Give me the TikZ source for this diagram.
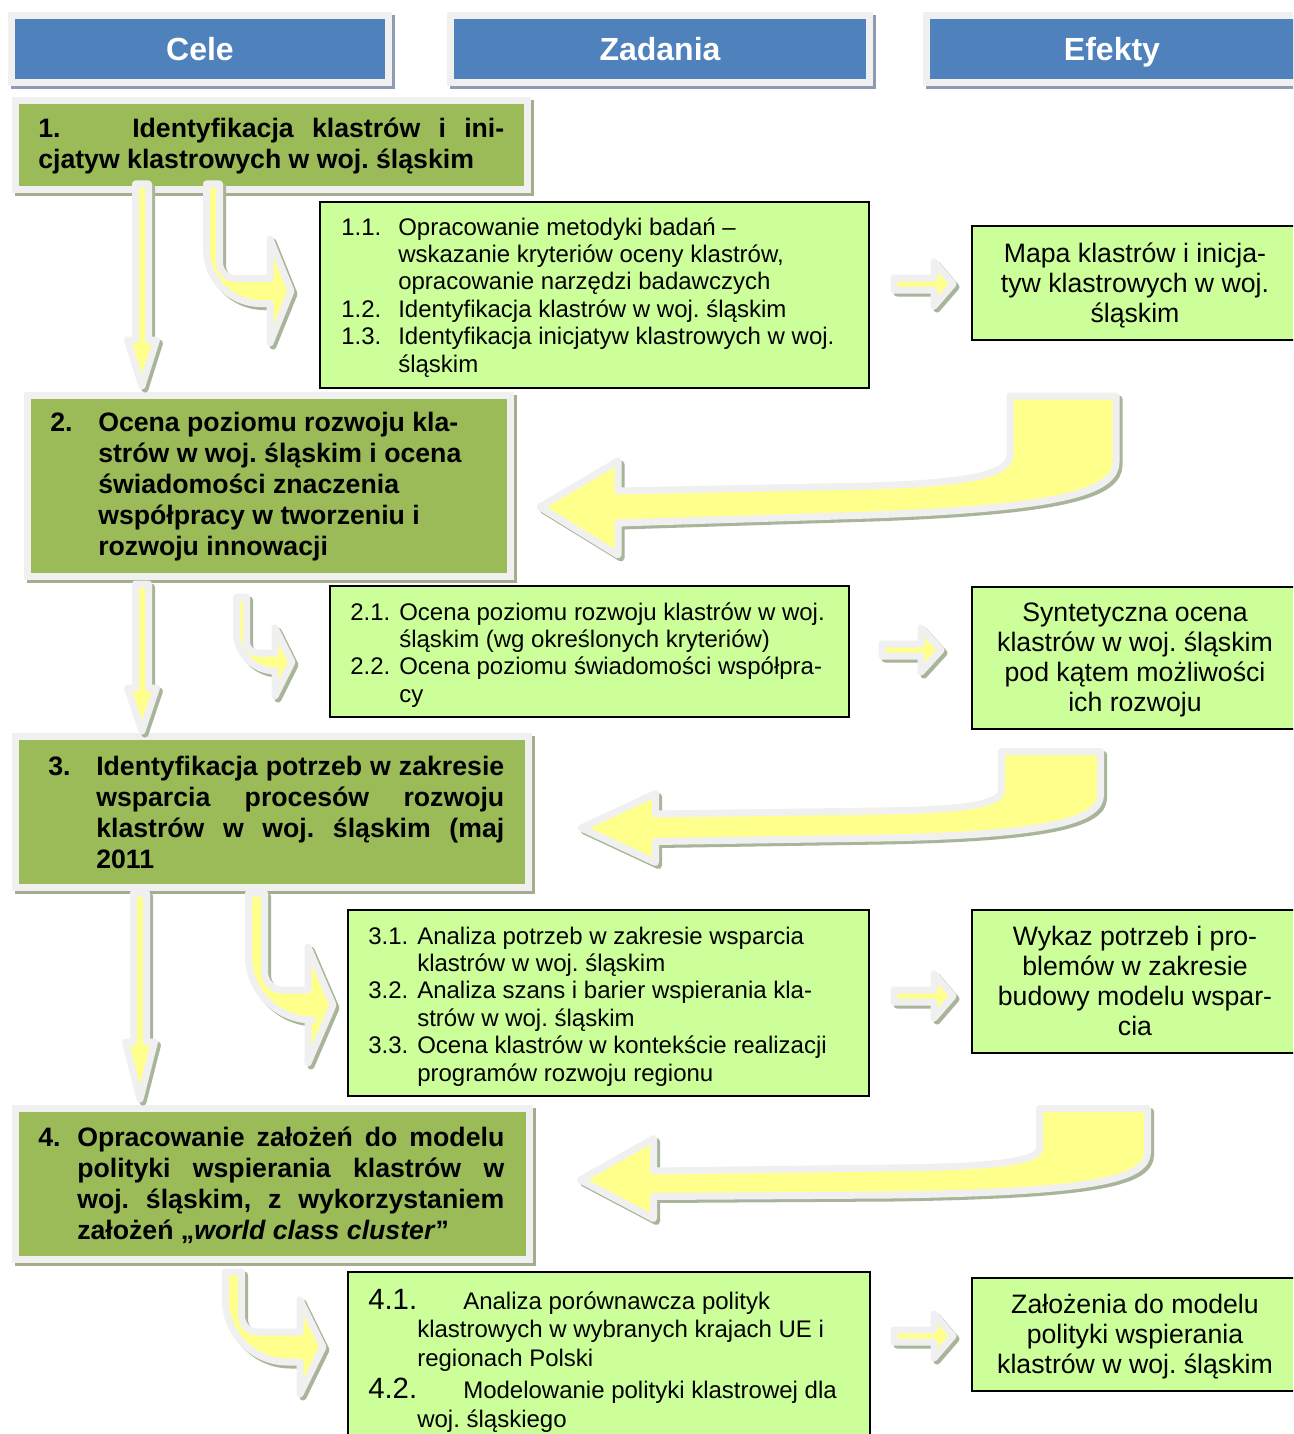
\documentclass[tikz,border=0pt]{standalone}
\usepackage{fontspec}
\setmainfont{Liberation Sans}
\definecolor{hblue}{HTML}{4F81BD}
\definecolor{framec}{HTML}{F0F0F0}
\definecolor{hshadowc}{HTML}{8E9CB2}
\definecolor{ggreen}{HTML}{9BBB59}
\definecolor{gshadowc}{HTML}{A4AE8F}
\definecolor{tfill}{HTML}{CCFF99}
\definecolor{ayellow}{HTML}{FFFF8C}
\definecolor{ashadowc}{HTML}{A9B59A}
\tikzset{
  abody/.style={fill=ayellow, draw=framec, line width=5.25pt, line join=round},
  ashadow/.style={fill=ashadowc, draw=ashadowc, line width=5.25pt, line join=round},
  tbox/.style={fill=tfill, draw=black, line width=1.5pt},
  htext/.style={anchor=base, text=white, inner sep=0pt, font=\fontsize{24pt}{28pt}\selectfont\bfseries},
  gtext/.style={anchor=base west, inner sep=0pt, font=\fontsize{20pt}{23.25pt}\selectfont\bfseries},
  ttext/.style={anchor=base west, inner sep=0pt, font=\fontsize{18pt}{20.6pt}\selectfont},
  etext/.style={anchor=base, inner sep=0pt, font=\fontsize{20pt}{22.5pt}\selectfont}
}
\newcommand\blockarrow[1]{\path[ashadow, shift={(3,3)}] #1; \path[abody] #1;}
% cx, ytop, yc, xhead, xtip, half shaft (vertical), half shaft (horizontal), half head, radius
\newcommand\bentarrow[9]{\blockarrow{(#1-#6,#2) -- (#1+#6,#2) -- (#1+#6,#3-#7-#9) .. controls (#1+#6,#3-#7-0.45*#9) and (#1+#6+0.45*#9,#3-#7) .. (#1+#6+#9,#3-#7) -- (#4,#3-#7) -- (#4,#3-#8) -- (#5,#3) -- (#4,#3+#8) -- (#4,#3+#7) -- (#1-#6+#9+#6+#6+#7+#7,#3+#7) .. controls (#1-#6+0.45*#9+0.45*#6+0.45*#6+0.45*#7+0.45*#7,#3+#7) and (#1-#6,#3+#7-0.45*#9-0.45*#6-0.45*#6-0.45*#7-0.45*#7) .. (#1-#6,#3+#7-#9-#6-#6-#7-#7) -- cycle}}
% cx, ytop, yhead, ytip, half shaft, half head
\newcommand\vdownarr[6]{\blockarrow{(#1-#5,#2) -- (#1+#5,#2) -- (#1+#5,#3) -- (#1+#6,#3) -- (#1,#4) -- (#1-#6,#3) -- (#1-#5,#3) -- cycle}}
% x0, xhead, xtip, yc, half shaft, half head
\newcommand\rarr[6]{\blockarrow{(#1,#4-#5) -- (#2,#4-#5) -- (#2,#4-#6) -- (#3,#4) -- (#2,#4+#6) -- (#2,#4+#5) -- (#1,#4+#5) -- cycle}}
\begin{document}
\frenchspacing
\begin{tikzpicture}[x=0.75pt,y=-0.75pt]
\useasboundingbox (0,0) rectangle (1293,1434);
\clip (0,0) rectangle (1293,1434);
\fill[white] (0,0) rectangle (1293,1434);

% ---------- headers
\fill[hshadowc] (11,15) rectangle (395,89);
\fill[framec] (8,12) rectangle (392,86);
\fill[hblue] (15,19) rectangle (385,79);
\node[htext] (hcele) at (200,61) {Cele};

\fill[hshadowc] (450,15) rectangle (876,89);
\fill[framec] (447,12) rectangle (873,86);
\fill[hblue] (454,19) rectangle (866,79);
\node[htext] (hzad) at (660,61) {Zadania};

\fill[hshadowc] (926,15) rectangle (1300,89);
\fill[framec] (923,12) rectangle (1300,86);
\fill[hblue] (930,19) rectangle (1300,79);
\node[htext] (hefe) at (1112,61) {Efekty};

% ---------- goal boxes
\fill[gshadowc] (15,100) rectangle (534,196);
\fill[framec] (12,97) rectangle (531,193);
\fill[ggreen] (19,104) rectangle (524,186);

\fill[gshadowc] (27,395) rectangle (517,583);
\fill[framec] (24,392) rectangle (514,580);
\fill[ggreen] (31,399) rectangle (507,573);

\fill[gshadowc] (15,736) rectangle (535,894);
\fill[framec] (12,733) rectangle (532,891);
\fill[ggreen] (19,740) rectangle (525,884);

\fill[gshadowc] (15,1108) rectangle (536,1266);
\fill[framec] (12,1105) rectangle (533,1263);
\fill[ggreen] (19,1112) rectangle (526,1256);

% ---------- task and effect boxes
\draw[tbox] (320,202) rectangle (869,388);
\draw[tbox] (330,586) rectangle (849,717);
\draw[tbox] (348,910) rectangle (869,1096);
\draw[tbox] (348,1272) rectangle (870,1445);
\draw[tbox] (972,226) rectangle (1300,340);
\draw[tbox] (972,587) rectangle (1300,729);
\draw[tbox] (972,910) rectangle (1300,1053);
\draw[tbox] (972,1278) rectangle (1300,1391);

% ---------- arrows
\vdownarr{142}{184}{340}{386}{6.5}{14.5}
\vdownarr{142}{584}{688}{731}{6.5}{14.5}
\vdownarr{140}{893}{1042}{1099}{6.5}{14.5}

\bentarrow{213}{184}{291}{270}{291}{6.5}{12.5}{52}{16}
\bentarrow{241.5}{597}{662}{275}{292}{5}{9}{34}{11}
\bentarrow{256.5}{893}{1005}{308}{333}{8}{15}{58}{18}
\bentarrow{233.5}{1272}{1347}{300}{323}{8}{15}{47}{16}

\rarr{894}{934}{953}{284}{6}{22}
\rarr{882}{921}{941}{650}{6}{22}
\rarr{894}{934}{953}{996}{6}{22}
\rarr{894}{934}{953}{1336}{6}{22}

\blockarrow{(1010,396) -- (1010,455) .. controls (1010,476) and (960,483) .. (870,486) -- (618,491) -- (618,461) -- (540,507) -- (618,555) -- (618,523) -- (870,515) .. controls (1060,508) and (1116,492) .. (1116,462) -- (1116,396) -- cycle}
\blockarrow{(1001.5,751.5) -- (1001.5,790) .. controls (1001.5,805) and (960,810) .. (880,811) -- (655.5,814) -- (655.5,793.5) -- (581.5,828) -- (655.5,862.5) -- (655.5,841.5) -- (880,838) .. controls (1050,835) and (1100.5,820) .. (1100.5,795) -- (1100.5,751.5) -- cycle}
\blockarrow{(1039.5,1108.5) -- (1039.5,1148) .. controls (1039.5,1162) and (990,1167) .. (890,1168) -- (653.5,1171) -- (653.5,1138.5) -- (580.5,1180) -- (653.5,1218.5) -- (653.5,1196.5) -- (890,1195) .. controls (1090,1192) and (1147.5,1180) .. (1147.5,1152) -- (1147.5,1108.5) -- cycle}

% ---------- goal texts
\node[gtext] (g1) at (38,138) {\parbox[t]{360pt}{\makebox[70.5pt][l]{1.}\makebox[279pt][s]{Identyfikacja klastrów i ini-}\\cjatyw klastrowych w woj. śląskim}};
\node[gtext] (g2) at (50,431) {\parbox[t]{360pt}{\makebox[36pt][l]{2.}Ocena poziomu rozwoju kla-\\\hspace*{36pt}strów w woj. śląskim i ocena\\\hspace*{36pt}świadomości znaczenia\\\hspace*{36pt}współpracy w tworzeniu i\\\hspace*{36pt}rozwoju innowacji}};
\node[gtext] (g3) at (48,775) {\parbox[t]{360pt}{\makebox[36pt][l]{3.}\makebox[306pt][s]{Identyfikacja potrzeb w zakresie}\\\hspace*{36pt}\makebox[306pt][s]{wsparcia procesów rozwoju}\\\hspace*{36pt}\makebox[306pt][s]{klastrów w woj. śląskim (maj}\\\hspace*{36pt}2011}};
\node[gtext] (g4) at (38,1146) {\parbox[t]{370pt}{\makebox[29.25pt][l]{4.}\makebox[320.25pt][s]{Opracowanie założeń do modelu}\\\hspace*{29.25pt}\makebox[320.25pt][s]{polityki wspierania klastrów w}\\\hspace*{29.25pt}\makebox[320.25pt][s]{woj. śląskim, z wykorzystaniem}\\\hspace*{29.25pt}założeń „\textit{world class cluster}”}};

% ---------- task texts
\node[ttext] (t1) at (341,235) {\parbox[t]{420pt}{\makebox[42.75pt][l]{1.1.}Opracowanie metodyki badań –\\\hspace*{42.75pt}wskazanie kryteriów oceny klastrów,\\\hspace*{42.75pt}opracowanie narzędzi badawczych\\\makebox[42.75pt][l]{1.2.}Identyfikacja klastrów w woj. śląskim\\\makebox[42.75pt][l]{1.3.}Identyfikacja inicjatyw klastrowych w woj.\\\hspace*{42.75pt}śląskim}};
\node[ttext] (t2) at (350,620) {\parbox[t]{420pt}{\makebox[36.75pt][l]{2.1.}Ocena poziomu rozwoju klastrów w woj.\\\hspace*{36.75pt}śląskim (wg określonych kryteriów)\\\makebox[36.75pt][l]{2.2.}Ocena poziomu świadomości współpra-\\\hspace*{36.75pt}cy}};
\node[ttext] (t3) at (368,944) {\parbox[t]{420pt}{\makebox[36.75pt][l]{3.1.}Analiza potrzeb w zakresie wsparcia\\\hspace*{36.75pt}klastrów w woj. śląskim\\\makebox[36.75pt][l]{3.2.}Analiza szans i barier wspierania kla-\\\hspace*{36.75pt}strów w woj. śląskim\\\makebox[36.75pt][l]{3.3.}Ocena klastrów w kontekście realizacji\\\hspace*{36.75pt}programów rozwoju regionu}};
\node[ttext] (t4) at (368,1309) {\parbox[t]{420pt}{\fontsize{18pt}{21.4pt}\selectfont\makebox[71.25pt][l]{\fontsize{22pt}{21.4pt}\selectfont 4.1.}Analiza porównawcza polityk\\\hspace*{36.75pt}klastrowych w wybranych krajach UE i\\\hspace*{36.75pt}regionach Polski\\[3pt]\makebox[71.25pt][l]{\fontsize{22pt}{21.4pt}\selectfont 4.2.}Modelowanie polityki klastrowej dla\\\hspace*{36.75pt}woj. śląskiego}};

% ---------- effect texts
\node[etext] (e1) at (1135,262) {\parbox[t]{225pt}{\centering Mapa klastrów i inicja-\\tyw klastrowych w woj.\\śląskim}};
\node[etext] (e2) at (1135,621) {\parbox[t]{225pt}{\centering Syntetyczna ocena\\klastrów w woj. śląskim\\pod kątem możliwości\\ich rozwoju}};
\node[etext] (e3) at (1135,945) {\parbox[t]{225pt}{\centering Wykaz potrzeb i pro-\\blemów w zakresie\\budowy modelu wspar-\\cia}};
\node[etext] (e4) at (1135,1313) {\parbox[t]{225pt}{\centering Założenia do modelu\\polityki wspierania\\klastrów w woj. śląskim}};
\end{tikzpicture}
\end{document}
